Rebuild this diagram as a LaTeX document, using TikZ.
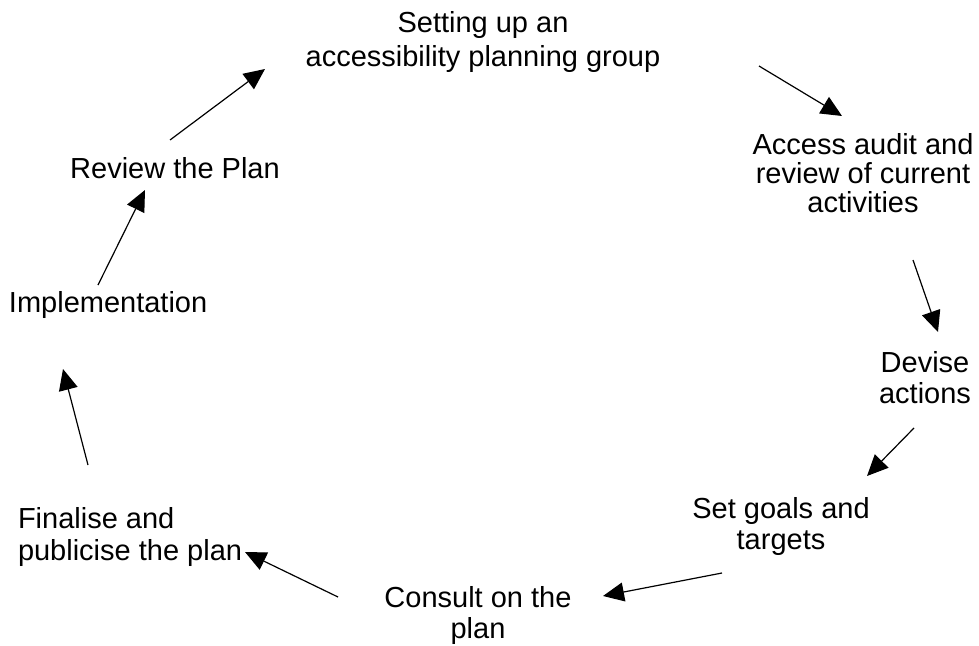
\documentclass[tikz,border=0pt]{standalone}
\usepackage{fontspec}
\setmainfont{Liberation Sans}
\usetikzlibrary{arrows.meta}
\tikzset{
  lbl/.style={font=\fontsize{29}{31}\selectfont, inner sep=0pt, outer sep=0pt, align=center},
  lbll/.style={lbl, align=left},
  arr/.style={-{Triangle[length=21pt,width=19pt]}, line width=1.2pt, black}
}
\begin{document}
\begin{tikzpicture}[x=1pt,y=-1pt]
\useasboundingbox (0,0) rectangle (979,645);
\node[lbl, font=\fontsize{29}{34}\selectfont, anchor=north] (set) at (483,11) {Setting up an\\accessibility planning group};
\node[lbl, font=\fontsize{29}{29}\selectfont, anchor=north] (acc) at (863,133) {Access audit and\\review of current\\activities};
\node[lbl, anchor=north] (dev) at (925,351) {Devise\\actions};
\node[lbl, anchor=north] (goal) at (781,497) {Set goals and\\targets};
\node[lbl, anchor=north] (cons) at (478,586) {Consult on the\\plan};
\node[lbll, font=\fontsize{29}{32}\selectfont, anchor=north west] (fin) at (18,507) {Finalise and\\publicise the plan};
\node[lbll, anchor=north west] (impl) at (9,291) {Implementation};
\node[lbl, anchor=north] (rev) at (175,157) {Review the Plan};
% arrow end points
\coordinate (a1s) at (170,140); \coordinate (a1e) at (265,69);
\coordinate (a2s) at (759,66);  \coordinate (a2e) at (842,116);
\coordinate (a3s) at (913,260); \coordinate (a3e) at (938,332);
\coordinate (a4s) at (914,428); \coordinate (a4e) at (867,476);
\coordinate (a5s) at (722,573); \coordinate (a5e) at (603,596);
\coordinate (a6s) at (338,597); \coordinate (a6e) at (245,552);
\coordinate (a7s) at (88,465);  \coordinate (a7e) at (63,369);
\coordinate (a8s) at (98,285);  \coordinate (a8e) at (145,190);
\draw[arr] (a1s) -- (a1e);
\draw[arr] (a2s) -- (a2e);
\draw[arr] (a3s) -- (a3e);
\draw[arr] (a4s) -- (a4e);
\draw[arr] (a5s) -- (a5e);
\draw[arr] (a6s) -- (a6e);
\draw[arr] (a7s) -- (a7e);
\draw[arr] (a8s) -- (a8e);
\end{tikzpicture}
\end{document}
